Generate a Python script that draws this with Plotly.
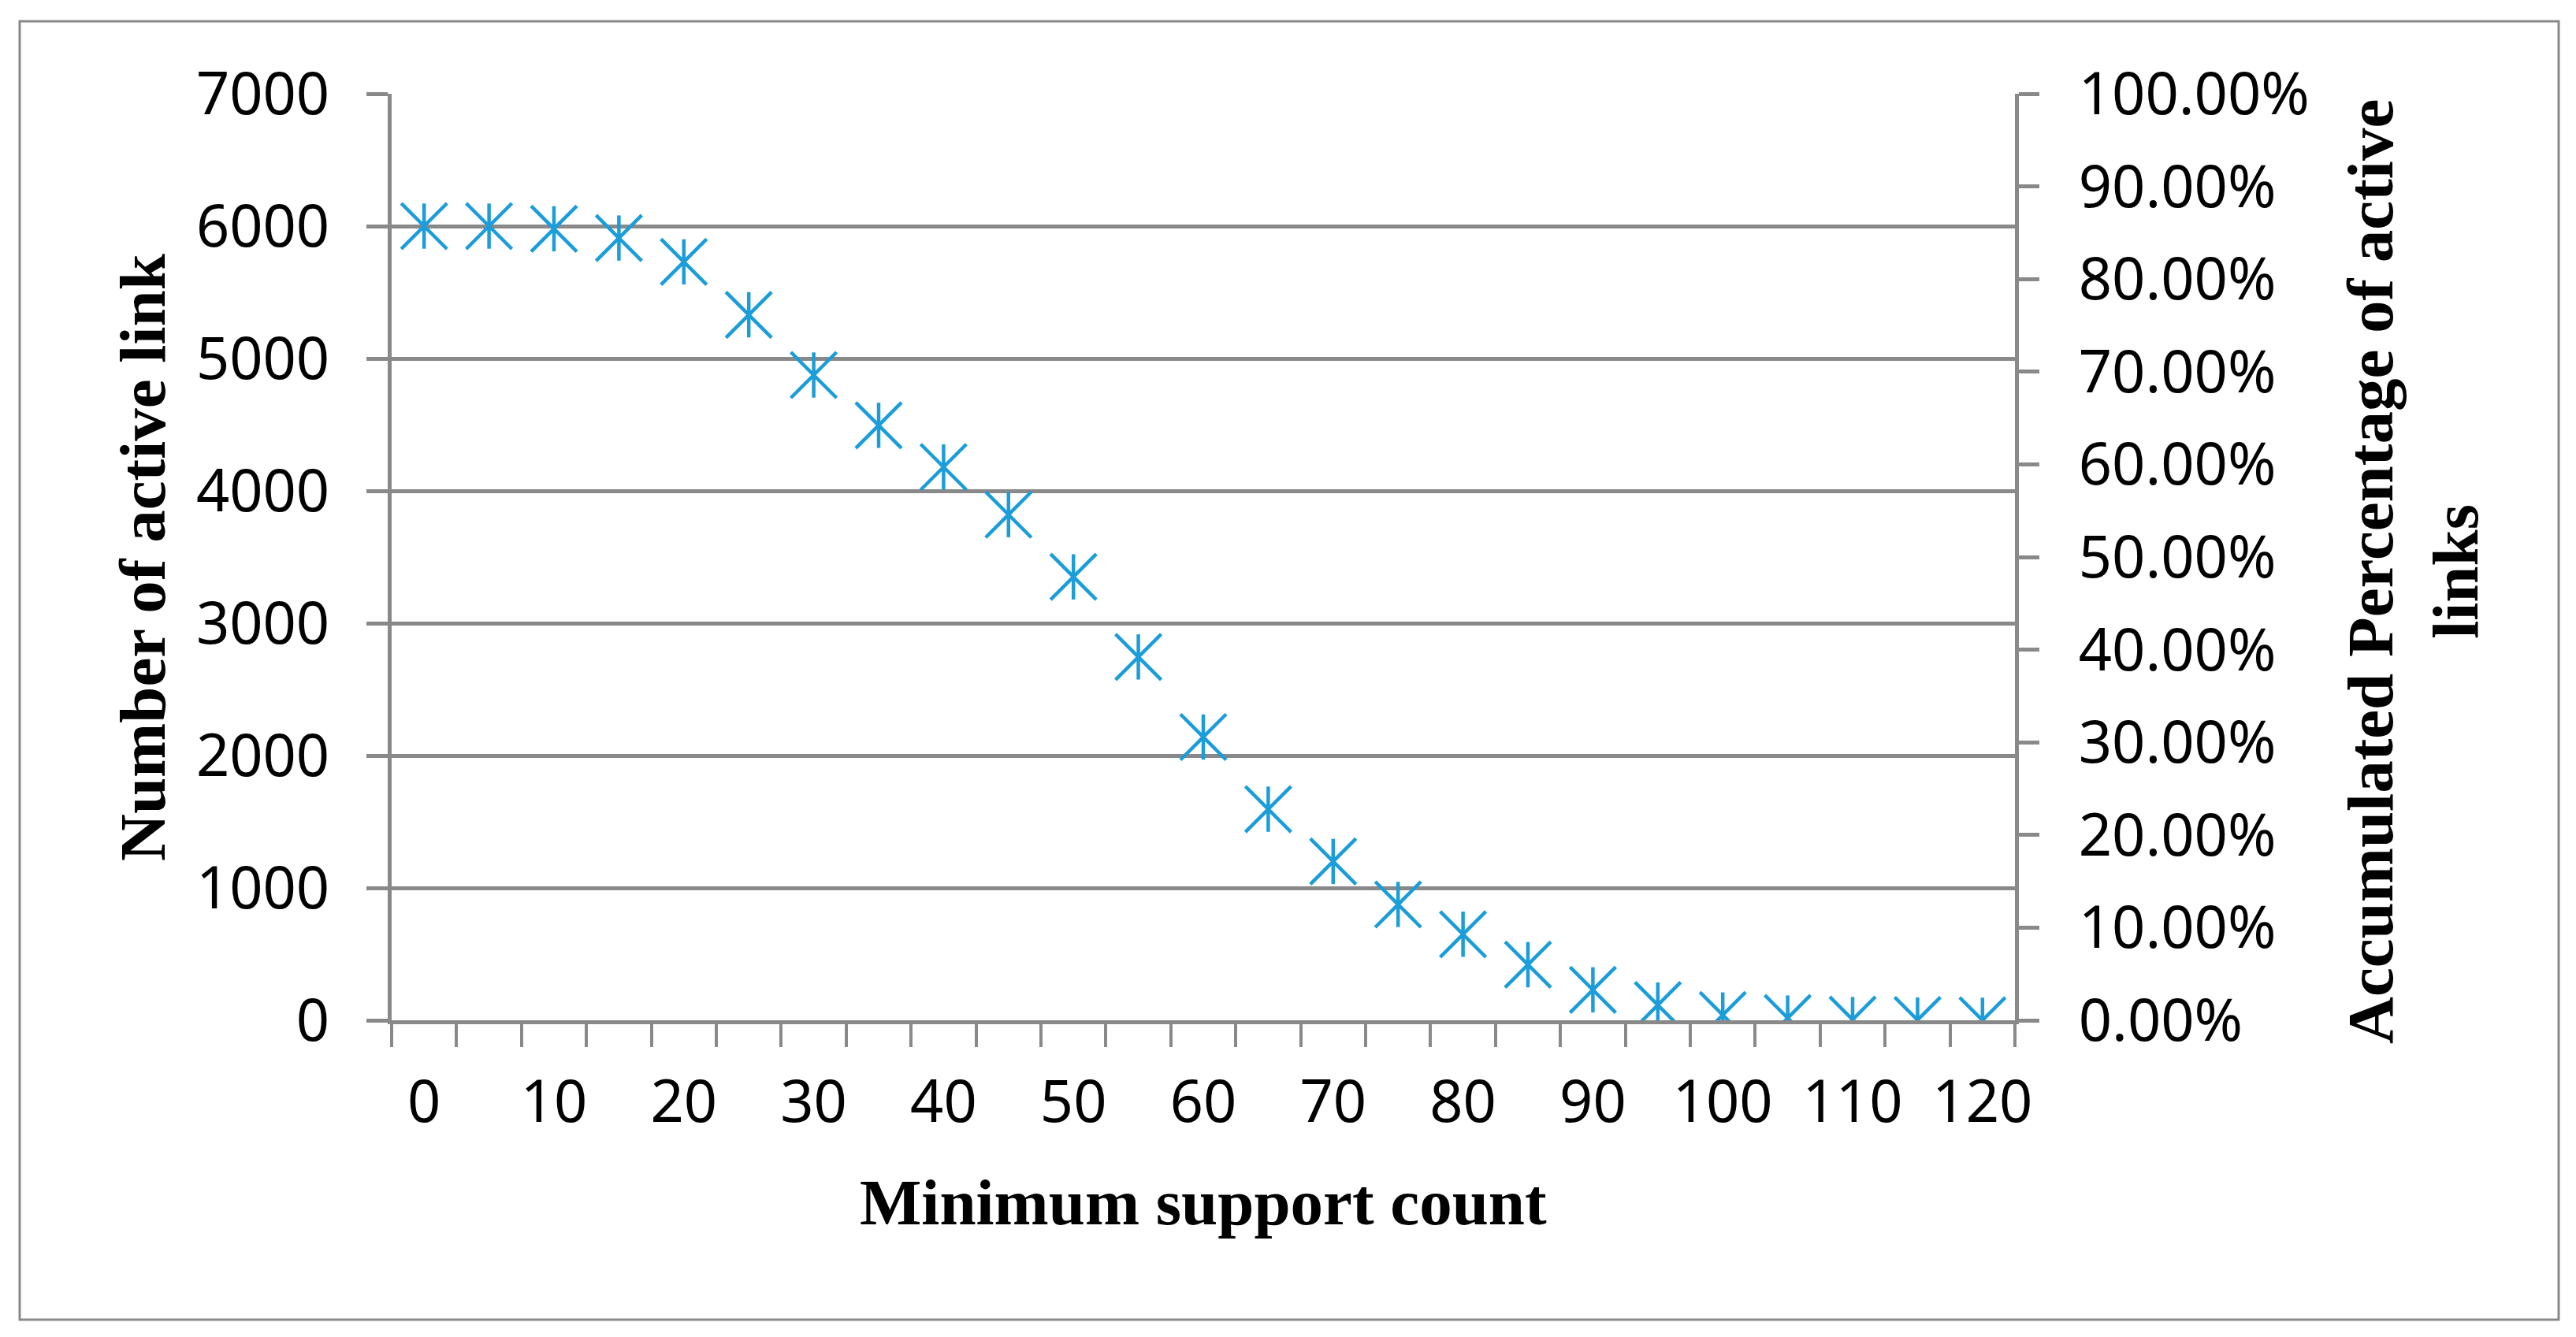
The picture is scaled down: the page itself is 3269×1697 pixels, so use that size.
import plotly.graph_objects as go

min_support = [0, 5, 10, 15, 20, 25, 30, 35, 40, 45, 50, 55, 60,
               65, 70, 75, 80, 85, 90, 95, 100, 105, 110, 115, 120]
active_links = [6000, 6000, 5980, 5910, 5730, 5330, 4875, 4495, 4180, 3820,
                3350, 2745, 2140, 1595, 1200, 875, 650, 420, 230, 115,
                40, 17, 5, 2, 0]
x_tick_labels = [0, 10, 20, 30, 40, 50, 60, 70, 80, 90, 100, 110, 120]
left_ticks = [0, 1000, 2000, 3000, 4000, 5000, 6000, 7000]
right_ticks = [0.0, 0.1, 0.2, 0.3, 0.4, 0.5, 0.6, 0.7, 0.8, 0.9, 1.0]

OFF = 8  # page body offset
W, H = 3269 - 2 * OFF, 1697 - 2 * OFF
PX_L, PX_R, PX_T, PX_B = 497, 2557, 119, 1295   # plot box in screen pixels
L, T = PX_L - OFF, PX_T - OFF
R = W - (PX_R - OFF)
B = H - (PX_B - OFF)
pw, ph = PX_R - PX_L, PX_B - PX_T


def px_x(x):
    return (x - PX_L) / pw


def px_y(y):
    return (PX_B - y) / ph


GREY = "#898989"
BLUE = "#1B9DD9"
TICKFONT = dict(family="Noto Sans", size=74, color="black")
TITLEFONT = dict(family="Liberation Serif", size=83, color="black")

half = (min_support[1] - min_support[0]) / 2
boundaries = [v - half for v in min_support] + [min_support[-1] + half]

fig = go.Figure()
fig.add_trace(go.Scatter(
    x=min_support, y=active_links, mode="markers",
    marker=dict(symbol="x-thin-open", size=58, color=BLUE,
                line=dict(color=BLUE, width=4.5)),
    showlegend=False, hoverinfo="skip"))
fig.add_trace(go.Scatter(
    x=min_support, y=active_links, mode="markers",
    marker=dict(symbol="line-ns-open", size=41, color=BLUE,
                line=dict(color=BLUE, width=4.5)),
    showlegend=False, hoverinfo="skip"))
fig.add_trace(go.Scatter(
    x=min_support, y=[None] * len(min_support), yaxis="y2", mode="markers",
    showlegend=False, hoverinfo="skip"))

fig.update_layout(
    width=W, height=H, autosize=False,
    margin=dict(l=L, r=R, t=T, b=B, pad=0),
    paper_bgcolor="white", plot_bgcolor="white",
    xaxis=dict(
        range=[boundaries[0], boundaries[-1]],
        tickmode="array", tickvals=x_tick_labels,
        ticktext=[str(v) for v in x_tick_labels],
        ticks="", showgrid=False, zeroline=False,
        showline=True, linecolor=GREY, linewidth=5,
        tickfont=TICKFONT, ticklabelstandoff=35,
        minor=dict(tickmode="array", tickvals=boundaries, ticks="outside",
                   ticklen=29, tickwidth=4, tickcolor=GREY, showgrid=False),
    ),
    yaxis=dict(
        range=[0, 7000], tickmode="array", tickvals=left_ticks,
        ticks="outside", ticklen=27, tickwidth=5, tickcolor=GREY,
        showgrid=True, gridcolor=GREY, gridwidth=5, zeroline=False,
        showline=True, linecolor=GREY, linewidth=5,
        tickfont=TICKFONT, ticklabelstandoff=32,
    ),
    yaxis2=dict(
        range=[0, 1], overlaying="y", side="right", anchor="x",
        tickmode="array", tickvals=right_ticks, tickformat=".2%",
        ticks="outside", ticklen=26, tickwidth=5, tickcolor=GREY,
        showgrid=False, zeroline=False,
        showline=True, linecolor=GREY, linewidth=5,
        tickfont=TICKFONT, ticklabelstandoff=35,
    ),
)

fig.add_annotation(text="<b>Number of active link</b>", textangle=-90,
                   xref="paper", yref="paper", x=px_x(181), y=0.5,
                   xanchor="center", yanchor="middle", showarrow=False,
                   font=TITLEFONT)
fig.add_annotation(text="<b>Accumulated Percentage of active<br>links</b>",
                   textangle=-90, align="center",
                   xref="paper", yref="paper", x=px_x(3062), y=px_y(726),
                   xanchor="center", yanchor="middle", showarrow=False,
                   font=TITLEFONT)
fig.add_annotation(text="<b>Minimum support count</b>",
                   xref="paper", yref="paper", x=0.5, y=px_y(1526),
                   xanchor="center", yanchor="middle", showarrow=False,
                   font=TITLEFONT)

fig.add_shape(type="rect", xref="paper", yref="paper", layer="below",
              x0=px_x(25), x1=px_x(3247), y0=px_y(1675), y1=px_y(27),
              line=dict(color=GREY, width=3), fillcolor="rgba(0,0,0,0)")

fig.write_html("out.html")
